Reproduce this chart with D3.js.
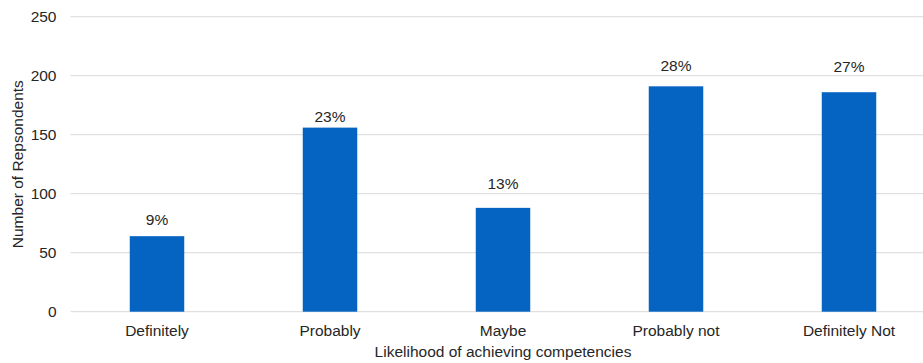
<!DOCTYPE html>
<html lang="en">
<head>
  <meta charset="UTF-8">
  <title>Likelihood of achieving competencies</title>
  <script src="https://d3js.org/d3.v7.min.js"></script>
  <style>
    body { margin: 0; background: #fff; }
    svg text { font-family: "Liberation Sans", Arial, sans-serif; fill: #262626; }
  </style>
</head>
<body>
  <div id="chart"></div>

  <script>
  // data
  const categories = ['Definitely', 'Probably', 'Maybe', 'Probably not', 'Definitely Not'];
  const respondents = [64, 156, 88, 191, 186];
  const percentLabels = ['9%', '23%', '13%', '28%', '27%'];
  const yTicks = [0, 50, 100, 150, 200, 250];

  const width = 923, height = 363;
  const fontSize = 15.5;
  // plot area runs a bit past the right edge, as in the cropped original
  const plot = { left: 70.5, right: 935.5, top: 16.7, bottom: 311.7 };
  // the % labels were hand placed in the original, gap (px) between baseline and bar top
  const labelGap = [11, 6, 19, 15, 20];

  const svg = d3.select('#chart')
    .append('svg')
    .attr('width', width).attr('height', height);

  const x = d3.scaleBand()
    .domain(categories)
    .range([plot.left, plot.right])
    .paddingInner(0.685)
    .paddingOuter(0.3425);

  const y = d3.scaleLinear()
    .domain([0, 250])
    .range([plot.bottom, plot.top]);

  // gridlines
  svg.append('g')
    .selectAll('line')
    .data(yTicks)
    .enter().append('line')
    .attr('x1', plot.left)
    .attr('x2', plot.right)
    .attr('y1', d => y(d))
    .attr('y2', d => y(d))
    .attr('stroke', '#d9d9d9')
    .attr('stroke-width', 1);

  // y tick labels
  const yAxis = d3.axisLeft(y).tickValues(yTicks).tickSize(0).tickPadding(0);
  const gy = svg.append('g')
    .attr('transform', `translate(${plot.left - 14},0)`)
    .call(yAxis);
  gy.select('.domain').remove();
  gy.selectAll('text')
    .attr('font-size', fontSize)
    .attr('font-family', '"Liberation Sans", Arial, sans-serif')
    .attr('fill', '#262626');

  // bars
  svg.append('g')
    .selectAll('rect')
    .data(categories)
    .enter().append('rect')
    .attr('x', d => x(d))
    .attr('y', (d, i) => y(respondents[i]))
    .attr('width', x.bandwidth())
    .attr('height', (d, i) => y(0) - y(respondents[i]))
    .attr('fill', '#0563c1');

  // percentage labels over bars
  svg.append('g')
    .selectAll('text')
    .data(categories)
    .enter().append('text')
    .attr('x', d => x(d) + x.bandwidth() / 2)
    .attr('y', (d, i) => y(respondents[i]) - labelGap[i])
    .attr('text-anchor', 'middle')
    .attr('font-size', fontSize)
    .text((d, i) => percentLabels[i]);

  // x category labels
  const xAxis = d3.axisBottom(x).tickSize(0).tickPadding(0);
  const gx = svg.append('g')
    .attr('transform', `translate(0,${plot.bottom + 13})`)
    .call(xAxis);
  gx.select('.domain').remove();
  gx.selectAll('text')
    .attr('font-size', fontSize)
    .attr('font-family', '"Liberation Sans", Arial, sans-serif')
    .attr('fill', '#262626');

  // axis titles
  svg.append('text')
    .attr('x', (plot.left + plot.right) / 2)
    .attr('y', 357)
    .attr('text-anchor', 'middle')
    .attr('font-size', fontSize)
    .text('Likelihood of achieving competencies');

  svg.append('text')
    .attr('transform', `translate(23,${(plot.top + plot.bottom) / 2}) rotate(-90)`)
    .attr('text-anchor', 'middle')
    .attr('font-size', fontSize)
    .text('Number of Repsondents');
  </script>
</body>
</html>
